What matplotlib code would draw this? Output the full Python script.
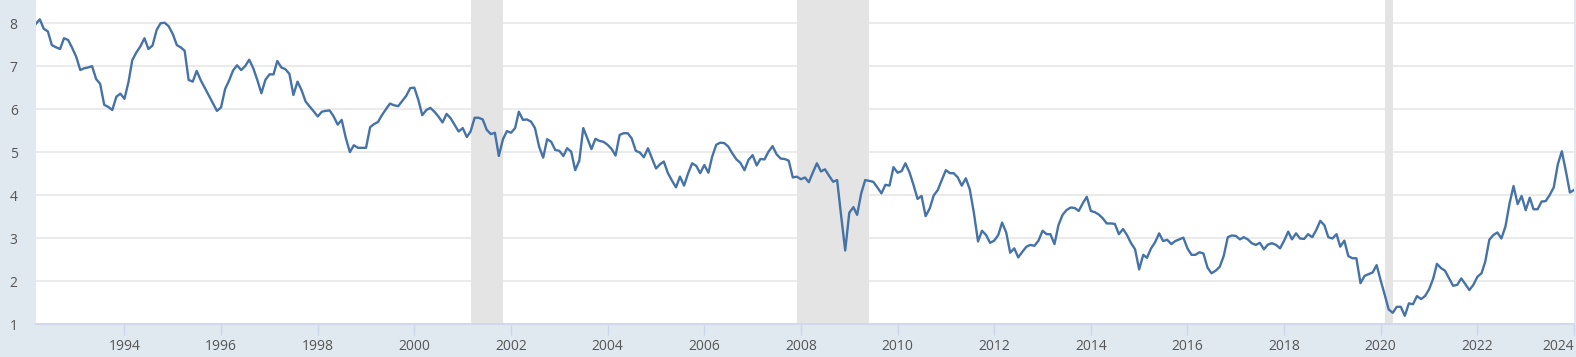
import numpy as np
import pandas as pd
import matplotlib
matplotlib.use("Agg")
import matplotlib.pyplot as plt
import matplotlib.dates as mdates

# monthly values, 1992-03 .. 2024-01 (one row per year)
START = "1992-03-01"
VALUES = [
    7.98, 8.09, 7.87, 7.81, 7.49, 7.44, 7.40, 7.65, 7.61, 7.43,
    7.22, 6.91, 6.95, 6.97, 7.00, 6.70, 6.59, 6.10, 6.05, 5.98, 6.29, 6.36,
    6.24, 6.64, 7.14, 7.32, 7.46, 7.65, 7.40, 7.48, 7.84, 8.00, 8.01, 7.93,
    7.75, 7.49, 7.44, 7.36, 6.68, 6.64, 6.89, 6.67, 6.49, 6.32, 6.14, 5.96,
    6.04, 6.47, 6.66, 6.90, 7.02, 6.91, 7.00, 7.15, 6.95, 6.68, 6.37, 6.68,
    6.81, 6.81, 7.12, 6.97, 6.93, 6.82, 6.33, 6.64, 6.44, 6.18, 6.06, 5.95,
    5.83, 5.94, 5.96, 5.97, 5.83, 5.64, 5.75, 5.33, 5.00, 5.16, 5.10, 5.10,
    5.10, 5.58, 5.65, 5.70, 5.86, 6.00, 6.13, 6.09, 6.07, 6.19, 6.31, 6.49,
    6.50, 6.21, 5.86, 5.98, 6.03, 5.94, 5.83, 5.69, 5.89, 5.79, 5.63, 5.48,
    5.56, 5.35, 5.48, 5.80, 5.80, 5.76, 5.52, 5.42, 5.45, 4.91, 5.30, 5.49,
    5.45, 5.56, 5.94, 5.75, 5.76, 5.71, 5.56, 5.13, 4.87, 5.30, 5.24, 5.05,
    5.03, 4.91, 5.09, 5.01, 4.58, 4.80, 5.56, 5.32, 5.07, 5.31, 5.26, 5.24,
    5.17, 5.07, 4.92, 5.40, 5.44, 5.44, 5.32, 5.03, 4.99, 4.88, 5.09, 4.86,
    4.62, 4.72, 4.78, 4.51, 4.34, 4.18, 4.43, 4.22, 4.51, 4.74, 4.68, 4.51,
    4.70, 4.52, 4.89, 5.17, 5.22, 5.21, 5.13, 4.97, 4.83, 4.75, 4.58, 4.82,
    4.93, 4.69, 4.84, 4.83, 5.01, 5.14, 4.95, 4.85, 4.84, 4.80, 4.41, 4.43,
    4.37, 4.41, 4.30, 4.53, 4.74, 4.55, 4.60, 4.45, 4.31, 4.35, 3.50, 2.71,
    3.59, 3.72, 3.54, 4.04, 4.35, 4.33, 4.31, 4.18, 4.04, 4.24, 4.22, 4.65,
    4.52, 4.56, 4.74, 4.53, 4.24, 3.91, 3.98, 3.51, 3.69, 3.99, 4.12, 4.35,
    4.58, 4.51, 4.51, 4.41, 4.22, 4.39, 4.13, 3.58, 2.92, 3.17, 3.07, 2.89,
    2.94, 3.07, 3.36, 3.13, 2.66, 2.76, 2.55, 2.68, 2.80, 2.84, 2.82, 2.94,
    3.17, 3.09, 3.09, 2.86, 3.30, 3.54, 3.65, 3.71, 3.70, 3.63, 3.81, 3.96,
    3.63, 3.60, 3.55, 3.46, 3.34, 3.34, 3.33, 3.09, 3.21, 3.07, 2.88, 2.74,
    2.27, 2.61, 2.54, 2.76, 2.90, 3.11, 2.93, 2.96, 2.86, 2.93, 2.97, 3.01,
    2.76, 2.61, 2.61, 2.67, 2.64, 2.31, 2.18, 2.24, 2.33, 2.58, 3.02, 3.06,
    3.05, 2.97, 3.02, 2.97, 2.88, 2.84, 2.89, 2.74, 2.85, 2.88, 2.84, 2.76,
    2.94, 3.15, 2.97, 3.11, 2.99, 2.98, 3.09, 3.02, 3.19, 3.40, 3.30, 3.02,
    2.99, 3.09, 2.80, 2.94, 2.58, 2.53, 2.53, 1.95, 2.12, 2.16, 2.20, 2.37,
    2.01, 1.67, 1.34, 1.26, 1.40, 1.40, 1.19, 1.48, 1.46, 1.65, 1.58, 1.65,
    1.81, 2.06, 2.40, 2.30, 2.24, 2.06, 1.89, 1.91, 2.06, 1.93, 1.79, 1.91,
    2.10, 2.18, 2.45, 2.96, 3.07, 3.13, 2.99, 3.27, 3.81, 4.21, 3.79, 3.98,
    3.65, 3.94, 3.67, 3.67, 3.85, 3.86, 4.00, 4.18, 4.72, 5.02, 4.55, 4.06,
    4.12,
]
RECESSIONS = [("2001-03-01", "2001-11-01"),
              ("2007-12-01", "2009-06-01"),
              ("2020-02-01", "2020-04-01")]
TICK_YEARS = list(range(1994, 2025, 2))
Y_TICKS = [1, 2, 3, 4, 5, 6, 7, 8]

BG = "#e1e9f0"
LINE = "#4572a7"
TXT = "#555555"

plt.rcParams["font.family"] = ["Open Sans", "DejaVu Sans"]

dates = pd.date_range(START, periods=len(VALUES), freq="MS")

W, H = 1576, 357
fig = plt.figure(figsize=(W / 100, H / 100), dpi=100, facecolor=BG)
ax = fig.add_axes([35.7 / W, 33 / H, (1574 - 35.7) / W, 324 / H])
ax.set_facecolor("white")

for a, b in RECESSIONS:
    ax.axvspan(pd.Timestamp(a), pd.Timestamp(b), color="#e4e4e4", lw=0, zorder=1)

ax.plot(dates, VALUES, color=LINE, linewidth=1.7, zorder=3, solid_joinstyle="round")

ax.set_xlim(dates[0], dates[-1])
ax.set_ylim(1, 8.54)
ax.set_yticks(Y_TICKS)
ax.set_yticklabels([str(v) for v in Y_TICKS])
ax.grid(axis="y", color="#e6e6e6", linewidth=1.1, zorder=0)
ax.set_axisbelow(True)

ticks = [pd.Timestamp(f"{y}-01-01") for y in TICK_YEARS]
ax.set_xticks(ticks)
ax.set_xticklabels([str(y) for y in TICK_YEARS])
ax.get_xticklabels()[-1].set_horizontalalignment("right")

for s in ["left", "right", "top"]:
    ax.spines[s].set_visible(False)
ax.spines["bottom"].set_color("#ccd6eb")
ax.spines["bottom"].set_linewidth(1.2)

ax.tick_params(axis="y", length=0, pad=13, labelsize=10, labelcolor=TXT)
ax.tick_params(axis="x", length=8, width=1, color="#ccd6eb", pad=3,
               labelsize=10, labelcolor=TXT)

fig.savefig("out.png", dpi=100, facecolor=BG)
